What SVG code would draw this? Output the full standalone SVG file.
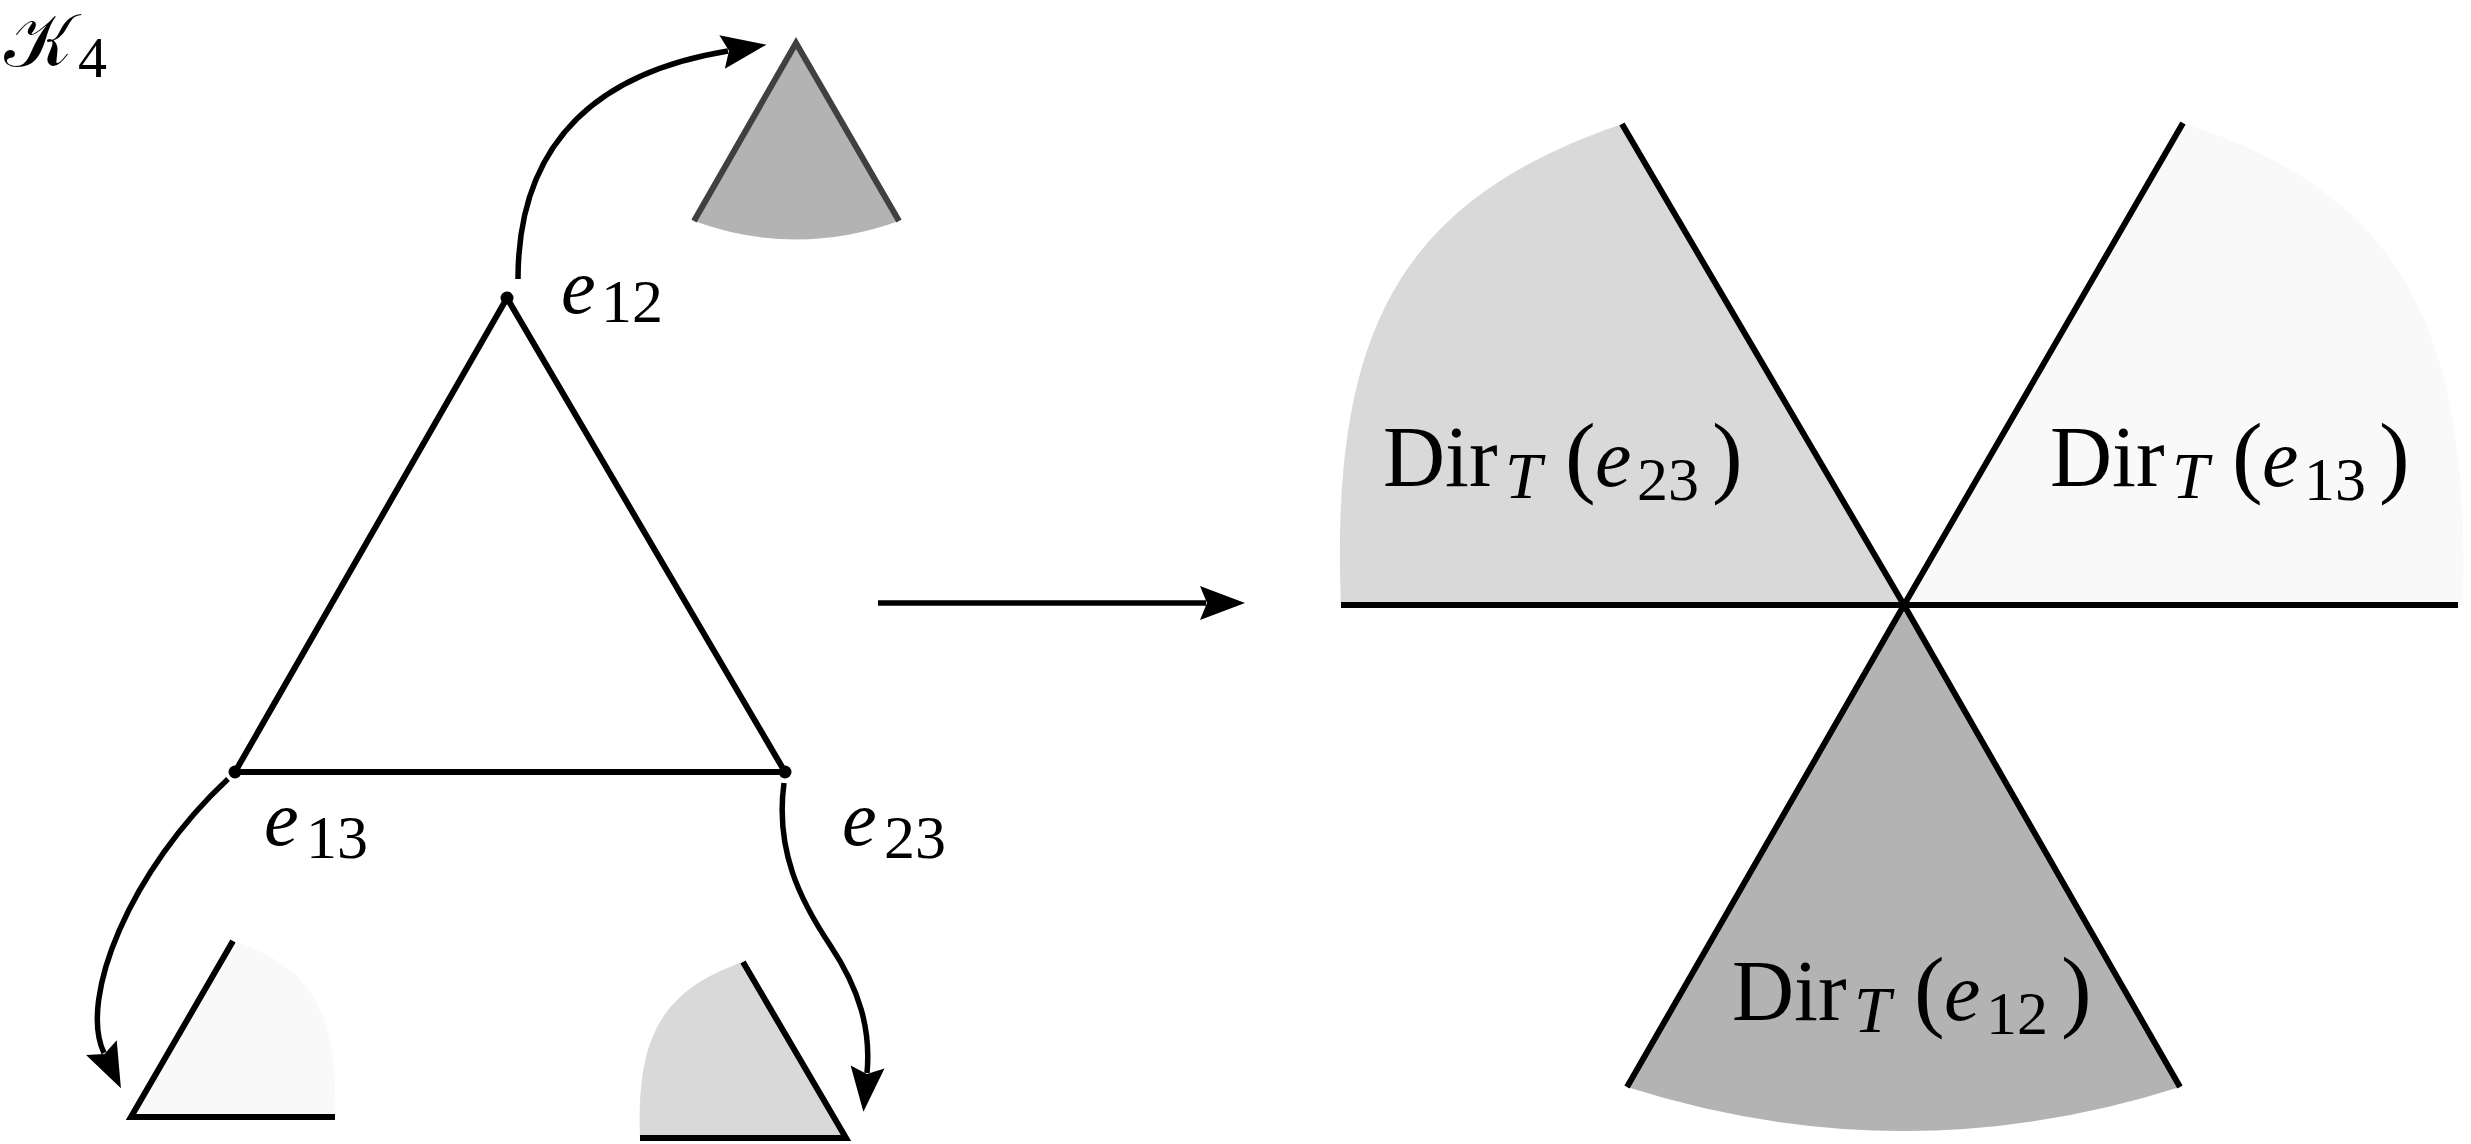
<svg xmlns="http://www.w3.org/2000/svg" width="2471" height="1144" viewBox="0 0 2471 1144">
<style>
.ln{fill:none;stroke:#000;stroke-width:6;stroke-linecap:butt}
.gl{fill:none;stroke:#404040;stroke-width:6}
.arr{fill:none;stroke:#000;stroke-width:5.5;marker-end:url(#ah)}
.f1{fill:#b3b3b3}
.f2{fill:#d9d9d9}
.f3{fill:#f9f9f9}
.tx{font-family:"Liberation Serif","Times New Roman",serif;fill:#000}
.it{font-style:italic}
</style>
<defs>
<marker id="ah" markerUnits="userSpaceOnUse" markerWidth="50" markerHeight="40" refX="6" refY="17" orient="auto" overflow="visible">
<path d="M0,0 L45,17 L0,34 L7,17 Z" fill="#000"/>
</marker>
</defs>
<rect width="2471" height="1144" fill="#fff"/>

<g id="label-K4" class="tx">
<text x="4" y="66" font-size="74">𝒦</text>
<text x="78" y="77" font-size="58">4</text>
</g>

<g id="triangle">
<path class="ln" d="M507,298 L235,772 L785,772 Z" stroke-linejoin="miter"/>
<circle cx="507" cy="298" r="6.5"/>
<circle cx="235" cy="772" r="6.5"/>
<circle cx="785" cy="772" r="6.5"/>
</g>

<g id="label-e12" class="tx"><text x="561" y="313" font-size="78" class="it">e</text><text x="601" y="322" font-size="62">12</text></g>
<g id="label-e13" class="tx"><text x="264" y="845" font-size="78" class="it">e</text><text x="306" y="858" font-size="62">13</text></g>
<g id="label-e23" class="tx"><text x="842" y="845" font-size="78" class="it">e</text><text x="884" y="858" font-size="62">23</text></g>

<g id="cone-e12-small">
<path class="f1" d="M796,43 L694,221 Q796,258 899,221 Z"/>
<path class="gl" d="M694,221 L796,43 L899,221"/>
</g>
<g id="cone-e13-small">
<path class="f3" d="M131,1117 L233,941 C314,967 338,1016 335,1117 Z"/>
<path class="ln" d="M233,941 L131,1117 L335,1117"/>
</g>
<g id="cone-e23-small">
<path class="f2" d="M846,1138 L743,962 C662,990 636,1037 640,1138 Z"/>
<path class="ln" d="M743,962 L846,1138 L640,1138"/>
</g>

<g id="dir-e23">
<path class="f2" d="M1904,605 L1622,124 C1400,200 1330,330 1341,605 Z"/>
<path class="ln" d="M1622,124 L1904,605 L1341,605"/>
</g>
<g id="dir-e13">
<path class="f3" d="M1904,605 L2183,123 C2405,195 2470,330 2463,605 Z"/>
<path class="ln" d="M2183,123 L1904,605 L2458,605"/>
</g>
<g id="dir-e12">
<path class="f1" d="M1904,605 L1627,1087 Q1904,1175 2180,1087 Z"/>
<path class="ln" d="M1627,1087 L1904,605 L2180,1087"/>
</g>

<g id="label-dir-e23" class="tx">
<text x="1383" y="486" font-size="86">Dir</text>
<text x="1505" y="498" font-size="66" class="it">T</text>
<text x="1565" y="486" font-size="92">(</text>
<text x="1595" y="486" font-size="82" class="it">e</text>
<text x="1637" y="500" font-size="62">23</text>
<text x="1712" y="486" font-size="92">)</text>
</g>
<g id="label-dir-e13" class="tx">
<text x="2050" y="486" font-size="86">Dir</text>
<text x="2172" y="498" font-size="66" class="it">T</text>
<text x="2232" y="486" font-size="92">(</text>
<text x="2262" y="486" font-size="82" class="it">e</text>
<text x="2304" y="500" font-size="62">13</text>
<text x="2379" y="486" font-size="92">)</text>
</g>
<g id="label-dir-e12" class="tx">
<text x="1732" y="1020" font-size="86">Dir</text>
<text x="1854" y="1032" font-size="66" class="it">T</text>
<text x="1914" y="1020" font-size="92">(</text>
<text x="1944" y="1020" font-size="82" class="it">e</text>
<text x="1986" y="1034" font-size="62">12</text>
<text x="2061" y="1020" font-size="92">)</text>
</g>

<g id="connectors">
<path class="arr" d="M518,279 C518,140 600,72 728,51"/>
<path class="arr" d="M228,779 C130,870 78,999 104,1053"/>
<path class="arr" d="M784,783 C775,850 800,900 830,945 C860,990 871,1030 867,1073"/>
<path class="arr" d="M878,603 L1206,603"/>
</g>
</svg>
